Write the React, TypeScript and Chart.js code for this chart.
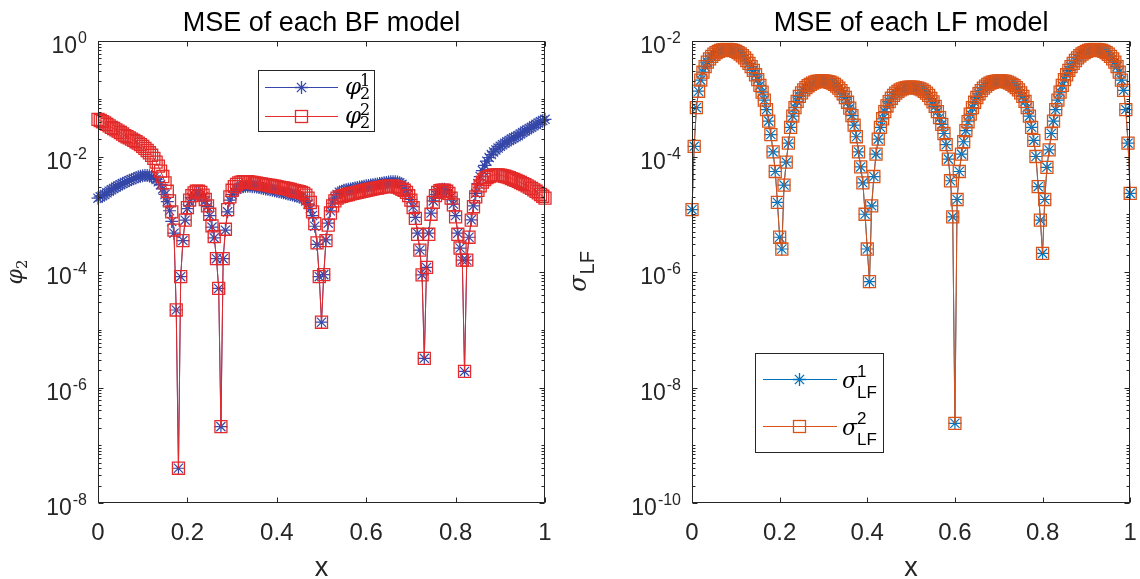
import React, { useEffect, useRef } from 'react';
import { Chart, registerables } from 'chart.js';

Chart.register(...registerables);

// ---------------- data ----------------
const xGrid = [
  0, 0.005, 0.01, 0.015, 0.02, 0.025, 0.03, 0.035, 0.04, 0.045,
  0.05, 0.055, 0.06, 0.065, 0.07, 0.075, 0.08, 0.085, 0.09, 0.095,
  0.1, 0.105, 0.11, 0.115, 0.12, 0.125, 0.13, 0.135, 0.14, 0.145,
  0.15, 0.155, 0.16, 0.165, 0.17, 0.175, 0.18, 0.185, 0.19, 0.195,
  0.2, 0.205, 0.21, 0.215, 0.22, 0.225, 0.23, 0.235, 0.24, 0.245,
  0.25, 0.255, 0.26, 0.265, 0.27, 0.275, 0.28, 0.285, 0.29, 0.295,
  0.3, 0.305, 0.31, 0.315, 0.32, 0.325, 0.33, 0.335, 0.34, 0.345,
  0.35, 0.355, 0.36, 0.365, 0.37, 0.375, 0.38, 0.385, 0.39, 0.395,
  0.4, 0.405, 0.41, 0.415, 0.42, 0.425, 0.43, 0.435, 0.44, 0.445,
  0.45, 0.455, 0.46, 0.465, 0.47, 0.475, 0.48, 0.485, 0.49, 0.495,
  0.5, 0.505, 0.51, 0.515, 0.52, 0.525, 0.53, 0.535, 0.54, 0.545,
  0.55, 0.555, 0.56, 0.565, 0.57, 0.575, 0.58, 0.585, 0.59, 0.595,
  0.6, 0.605, 0.61, 0.615, 0.62, 0.625, 0.63, 0.635, 0.64, 0.645,
  0.65, 0.655, 0.66, 0.665, 0.67, 0.675, 0.68, 0.685, 0.69, 0.695,
  0.7, 0.705, 0.71, 0.715, 0.72, 0.725, 0.73, 0.735, 0.74, 0.745,
  0.75, 0.755, 0.76, 0.765, 0.77, 0.775, 0.78, 0.785, 0.79, 0.795,
  0.8, 0.805, 0.81, 0.815, 0.82, 0.825, 0.83, 0.835, 0.84, 0.845,
  0.85, 0.855, 0.86, 0.865, 0.87, 0.875, 0.88, 0.885, 0.89, 0.895,
  0.9, 0.905, 0.91, 0.915, 0.92, 0.925, 0.93, 0.935, 0.94, 0.945,
  0.95, 0.955, 0.96, 0.965, 0.97, 0.975, 0.98, 0.985, 0.99, 0.995,
  1,
];

// BF model 1 (blue stars)
const bfPhi1Values = [
  1.9e-3, 2.0e-3, 2.1e-3, 2.2e-3, 2.35e-3, 2.5e-3, 2.65e-3, 2.8e-3, 2.95e-3, 3.1e-3,
  3.25e-3, 3.4e-3, 3.55e-3, 3.7e-3, 3.85e-3, 4.0e-3, 4.15e-3, 4.3e-3, 4.45e-3, 4.55e-3,
  4.65e-3, 4.7e-3, 4.7e-3, 4.65e-3, 4.5e-3, 4.3e-3, 4.0e-3, 3.65e-3, 3.25e-3, 2.75e-3,
  2.2e-3, 1.65e-3, 1.15e-3, 7.5e-4, 4.7e-4, 2.2e-5, 4e-8, 8.3e-5, 3.5e-4, 7.9e-4,
  1.25e-3, 1.65e-3, 1.95e-3, 2.15e-3, 2.3e-3, 2.3e-3, 2.2e-3, 2.0e-3, 1.7e-3, 1.35e-3,
  9.5e-4, 6.0e-4, 3.9e-4, 1.7e-4, 5.2e-5, 2.1e-7, 1.7e-4, 5.3e-4, 1.1e-3, 1.75e-3,
  2.2e-3, 2.5e-3, 2.7e-3, 2.85e-3, 2.95e-3, 3.0e-3, 3.05e-3, 3.05e-3, 3.05e-3, 3.0e-3,
  3.0e-3, 2.95e-3, 2.9e-3, 2.85e-3, 2.8e-3, 2.75e-3, 2.7e-3, 2.65e-3, 2.6e-3, 2.55e-3,
  2.5e-3, 2.45e-3, 2.4e-3, 2.35e-3, 2.3e-3, 2.25e-3, 2.2e-3, 2.15e-3, 2.1e-3, 2.05e-3,
  2.0e-3, 1.95e-3, 1.85e-3, 1.7e-3, 1.5e-3, 1.25e-3, 9.5e-4, 6.2e-4, 3.0e-4, 8.3e-5,
  1.35e-5, 9.0e-5, 3.6e-4, 7.0e-4, 1.15e-3, 1.55e-3, 1.9e-3, 2.2e-3, 2.4e-3, 2.5e-3,
  2.6e-3, 2.65e-3, 2.7e-3, 2.75e-3, 2.8e-3, 2.85e-3, 2.9e-3, 2.95e-3, 3.0e-3, 3.05e-3,
  3.1e-3, 3.15e-3, 3.2e-3, 3.25e-3, 3.3e-3, 3.35e-3, 3.4e-3, 3.45e-3, 3.5e-3, 3.55e-3,
  3.6e-3, 3.65e-3, 3.65e-3, 3.65e-3, 3.6e-3, 3.5e-3, 3.3e-3, 3.0e-3, 2.6e-3, 2.2e-3,
  1.8e-3, 1.35e-3, 8.8e-4, 4.7e-4, 2.4e-4, 8.9e-5, 3.2e-6, 1.2e-4, 4.7e-4, 1.05e-3,
  1.7e-3, 2.2e-3, 2.5e-3, 2.65e-3, 2.7e-3, 2.7e-3, 2.6e-3, 2.4e-3, 2.0e-3, 1.5e-3,
  9.5e-4, 4.7e-4, 2.6e-4, 1.6e-4, 1.9e-6, 1.6e-4, 4.0e-4, 8.0e-4, 1.4e-3, 2.3e-3,
  3.4e-3, 4.5e-3, 5.7e-3, 7.0e-3, 8.3e-3, 9.6e-3, 1.08e-2, 1.2e-2, 1.3e-2, 1.4e-2,
  1.5e-2, 1.6e-2, 1.7e-2, 1.8e-2, 1.9e-2, 2.0e-2, 2.1e-2, 2.2e-2, 2.3e-2, 2.45e-2,
  2.6e-2, 2.75e-2, 2.9e-2, 3.05e-2, 3.2e-2, 3.4e-2, 3.6e-2, 3.8e-2, 4.0e-2, 4.2e-2,
  4.4e-2,
];

// BF model 2 (red squares)
const bfPhi2Values = [
  4.4e-2, 4.2e-2, 4.0e-2, 3.8e-2, 3.6e-2, 3.4e-2, 3.2e-2, 3.05e-2, 2.9e-2, 2.75e-2,
  2.6e-2, 2.45e-2, 2.3e-2, 2.2e-2, 2.1e-2, 2.0e-2, 1.9e-2, 1.8e-2, 1.7e-2, 1.6e-2,
  1.5e-2, 1.38e-2, 1.27e-2, 1.16e-2, 1.05e-2, 9.3e-3, 8.0e-3, 6.8e-3, 5.6e-3, 4.5e-3,
  3.5e-3, 2.5e-3, 1.7e-3, 1.1e-3, 5.3e-4, 2.2e-5, 4e-8, 8.3e-5, 3.5e-4, 7.9e-4,
  1.3e-3, 1.75e-3, 2.1e-3, 2.35e-3, 2.5e-3, 2.5e-3, 2.4e-3, 2.15e-3, 1.8e-3, 1.4e-3,
  1.0e-3, 6.3e-4, 4.1e-4, 1.7e-4, 5.2e-5, 2.1e-7, 1.7e-4, 5.5e-4, 1.2e-3, 2.0e-3,
  2.6e-3, 3.0e-3, 3.3e-3, 3.5e-3, 3.6e-3, 3.65e-3, 3.65e-3, 3.65e-3, 3.6e-3, 3.55e-3,
  3.5e-3, 3.45e-3, 3.4e-3, 3.35e-3, 3.3e-3, 3.25e-3, 3.2e-3, 3.15e-3, 3.1e-3, 3.05e-3,
  3.0e-3, 2.95e-3, 2.9e-3, 2.85e-3, 2.8e-3, 2.75e-3, 2.7e-3, 2.62e-3, 2.55e-3, 2.5e-3,
  2.45e-3, 2.4e-3, 2.3e-3, 2.15e-3, 1.9e-3, 1.6e-3, 1.1e-3, 6.9e-4, 3.2e-4, 8.3e-5,
  1.35e-5, 9.0e-5, 3.5e-4, 6.5e-4, 1.05e-3, 1.4e-3, 1.7e-3, 1.9e-3, 2.0e-3, 2.05e-3,
  2.1e-3, 2.15e-3, 2.2e-3, 2.25e-3, 2.3e-3, 2.35e-3, 2.4e-3, 2.45e-3, 2.5e-3, 2.55e-3,
  2.6e-3, 2.65e-3, 2.7e-3, 2.75e-3, 2.8e-3, 2.85e-3, 2.9e-3, 2.95e-3, 3.0e-3, 3.0e-3,
  3.05e-3, 3.05e-3, 3.05e-3, 3.0e-3, 2.95e-3, 2.85e-3, 2.7e-3, 2.6e-3, 2.4e-3, 2.1e-3,
  1.75e-3, 1.3e-3, 8.5e-4, 4.5e-4, 2.4e-4, 8.9e-5, 3.2e-6, 1.2e-4, 4.5e-4, 1.0e-3,
  1.6e-3, 2.1e-3, 2.4e-3, 2.55e-3, 2.6e-3, 2.6e-3, 2.5e-3, 2.3e-3, 1.9e-3, 1.45e-3,
  9.0e-4, 4.5e-4, 2.6e-4, 1.6e-4, 1.9e-6, 1.6e-4, 4.0e-4, 7.9e-4, 1.35e-3, 2.0e-3,
  2.6e-3, 3.1e-3, 3.6e-3, 4.0e-3, 4.3e-3, 4.5e-3, 4.65e-3, 4.75e-3, 4.8e-3, 4.8e-3,
  4.75e-3, 4.65e-3, 4.55e-3, 4.45e-3, 4.3e-3, 4.15e-3, 4.0e-3, 3.85e-3, 3.7e-3, 3.55e-3,
  3.4e-3, 3.25e-3, 3.1e-3, 2.95e-3, 2.8e-3, 2.65e-3, 2.5e-3, 2.35e-3, 2.2e-3, 2.05e-3,
  1.9e-3,
];

// LF model 1 (blue stars)
const lfSigma1Values = [
  1.2e-5, 1.5e-4, 7.0e-4, 1.35e-3, 2.1e-3, 2.9e-3, 3.6e-3, 4.3e-3, 4.9e-3, 5.4e-3,
  5.9e-3, 6.3e-3, 6.6e-3, 6.85e-3, 7.0e-3, 7.1e-3, 7.15e-3, 7.1e-3, 7.0e-3, 6.85e-3,
  6.6e-3, 6.3e-3, 5.95e-3, 5.55e-3, 5.1e-3, 4.6e-3, 4.1e-3, 3.6e-3, 3.1e-3, 2.6e-3,
  2.15e-3, 1.7e-3, 1.3e-3, 9.5e-4, 6.5e-4, 4.1e-4, 2.4e-4, 1.2e-4, 5.5e-5, 1.6e-5,
  4.0e-6, 2.5e-6, 3.2e-5, 8.0e-5, 1.7e-4, 3.2e-4, 5.0e-4, 7.0e-4, 9.0e-4, 1.1e-3,
  1.26e-3, 1.42e-3, 1.56e-3, 1.68e-3, 1.78e-3, 1.87e-3, 1.94e-3, 1.99e-3, 2.02e-3, 2.04e-3,
  2.04e-3, 2.02e-3, 1.98e-3, 1.93e-3, 1.86e-3, 1.77e-3, 1.66e-3, 1.53e-3, 1.38e-3, 1.22e-3,
  1.05e-3, 8.7e-4, 6.9e-4, 5.1e-4, 3.5e-4, 2.2e-4, 1.2e-4, 6.6e-5, 3.5e-5, 1.0e-5,
  2.5e-6, 6.8e-7, 1.4e-5, 4.5e-5, 1.1e-4, 2.0e-4, 3.2e-4, 4.5e-4, 6.0e-4, 7.5e-4,
  8.9e-4, 1.02e-3, 1.14e-3, 1.25e-3, 1.34e-3, 1.42e-3, 1.48e-3, 1.53e-3, 1.56e-3, 1.58e-3,
  1.59e-3, 1.58e-3, 1.56e-3, 1.53e-3, 1.48e-3, 1.42e-3, 1.34e-3, 1.25e-3, 1.14e-3, 1.01e-3,
  8.8e-4, 7.4e-4, 6.0e-4, 4.7e-4, 3.6e-4, 2.5e-4, 1.6e-4, 9.0e-5, 3.8e-5, 9.0e-6,
  2.4e-9, 1.8e-5, 5.5e-5, 1.1e-4, 1.8e-4, 2.8e-4, 4.0e-4, 5.4e-4, 7.0e-4, 8.7e-4,
  1.05e-3, 1.22e-3, 1.38e-3, 1.53e-3, 1.66e-3, 1.77e-3, 1.86e-3, 1.93e-3, 1.98e-3, 2.02e-3,
  2.04e-3, 2.04e-3, 2.02e-3, 1.99e-3, 1.94e-3, 1.87e-3, 1.78e-3, 1.68e-3, 1.56e-3, 1.42e-3,
  1.26e-3, 1.1e-3, 9.0e-4, 7.0e-4, 5.0e-4, 3.2e-4, 1.9e-4, 1.0e-4, 3.0e-5, 7.9e-6,
  2.1e-6, 1.8e-5, 6.5e-5, 1.3e-4, 2.5e-4, 4.1e-4, 6.5e-4, 9.5e-4, 1.3e-3, 1.7e-3,
  2.15e-3, 2.6e-3, 3.1e-3, 3.6e-3, 4.1e-3, 4.6e-3, 5.1e-3, 5.55e-3, 5.95e-3, 6.3e-3,
  6.6e-3, 6.85e-3, 7.0e-3, 7.1e-3, 7.15e-3, 7.1e-3, 7.0e-3, 6.85e-3, 6.6e-3, 6.3e-3,
  5.9e-3, 5.4e-3, 4.9e-3, 4.3e-3, 3.6e-3, 2.9e-3, 2.1e-3, 1.4e-3, 6.5e-4, 1.7e-4,
  2.3e-5,
];

// LF model 2 (orange squares) coincides with model 1 at the plotted resolution
const lfSigma2Values = lfSigma1Values;

const xTickValues = [0, 0.2, 0.4, 0.6, 0.8, 1];
const xTickLabels = ['0', '0.2', '0.4', '0.6', '0.8', '1'];
const bfYTickExponents = [0, -2, -4, -6, -8];
const lfYTickExponents = [-2, -4, -6, -8, -10];

const panelTitles = ['MSE of each BF model', 'MSE of each LF model'];
const xAxisTitle = 'x';

// ---------------- styling ----------------
const SANS = '"Liberation Sans", Arial, Helvetica, sans-serif';
const SERIF = '"DejaVu Serif", "Liberation Serif", serif';
const INK = '#262626';

const BF_BLUE = '#3547A8';
const BF_RED = '#E42A2A';
const LF_BLUE = '#0072BD';
const LF_ORANGE = '#D95319';

type Kind = 'phi' | 'sigma';

interface PanelSpec {
  title: string;
  values1: number[];
  values2: number[];
  color1: string;
  color2: string;
  yMin: number;
  yMax: number;
  yExps: number[];
  padding: { left: number; top: number; right: number; bottom: number };
  kind: Kind;
  legendBox: [number, number, number, number];
  legendLine: [number, number];
  legendMarkerX: number;
  legendRows: [number, number];
  legendTextX: number;
  legendScriptX: number;
  yLabelX: number;
}

function drawStar(ctx: CanvasRenderingContext2D, x: number, y: number, r: number) {
  const d = r * Math.SQRT1_2;
  ctx.beginPath();
  ctx.moveTo(x - r, y); ctx.lineTo(x + r, y);
  ctx.moveTo(x, y - r); ctx.lineTo(x, y + r);
  ctx.moveTo(x - d, y - d); ctx.lineTo(x + d, y + d);
  ctx.moveTo(x - d, y + d); ctx.lineTo(x + d, y - d);
  ctx.stroke();
}

function drawSquare(ctx: CanvasRenderingContext2D, x: number, y: number, h: number) {
  ctx.strokeRect(x - h, y - h, 2 * h, 2 * h);
}

function makeAxesPlugin(spec: PanelSpec) {
  return {
    id: 'matlabAxes',
    afterDraw(chart: any) {
      const ctx: CanvasRenderingContext2D = chart.ctx;
      const a = chart.chartArea;
      const xs = chart.scales.x;
      const ys = chart.scales.y;
      ctx.save();

      // axes box
      const L = Math.round(a.left) + 0.5;
      const R = Math.round(a.right) - 0.5;
      const T = Math.round(a.top) + 0.5;
      const B = Math.round(a.bottom) - 0.5;
      ctx.strokeStyle = INK;
      ctx.lineWidth = 1;
      ctx.strokeRect(L, T, R - L, B - T);

      // x ticks (inside, top and bottom)
      ctx.beginPath();
      xTickValues.forEach((v) => {
        const px = Math.round(xs.getPixelForValue(v)) + 0.5;
        ctx.moveTo(px, B); ctx.lineTo(px, B - 5);
        ctx.moveTo(px, T); ctx.lineTo(px, T + 5);
      });
      // y ticks, major + minor
      const lo = Math.round(Math.log10(spec.yMin));
      const hi = Math.round(Math.log10(spec.yMax));
      for (let e = lo; e <= hi; e++) {
        for (let m = 1; m <= 9; m++) {
          if (e === hi && m > 1) break;
          const v = m * Math.pow(10, e);
          const py = Math.round(ys.getPixelForValue(v)) + 0.5;
          const major = m === 1 && spec.yExps.includes(e);
          const len = major ? 5 : 3;
          ctx.moveTo(L, py); ctx.lineTo(L + len, py);
          ctx.moveTo(R, py); ctx.lineTo(R - len, py);
        }
      }
      ctx.stroke();

      // x tick labels
      ctx.fillStyle = INK;
      ctx.font = `24px ${SANS}`;
      ctx.textAlign = 'center';
      ctx.textBaseline = 'alphabetic';
      xTickValues.forEach((v, i) => {
        ctx.fillText(xTickLabels[i], xs.getPixelForValue(v), a.bottom + 37);
      });

      // y tick labels 10^e
      spec.yExps.forEach((e) => {
        const py = ys.getPixelForValue(Math.pow(10, e));
        const sup = String(e);
        ctx.font = `16px ${SANS}`;
        const supW = ctx.measureText(sup).width;
        ctx.font = `23px ${SANS}`;
        const baseW = ctx.measureText('10').width;
        const right = a.left - 11;
        const x0 = right - supW - baseW - 1;
        ctx.textAlign = 'left';
        ctx.fillText('10', x0, py + 12);
        ctx.font = `16px ${SANS}`;
        ctx.fillText(sup, x0 + baseW + 1, py + 2);
      });

      // x-axis title
      const cx = (a.left + a.right) / 2;
      ctx.font = `27px ${SANS}`;
      ctx.textAlign = 'center';
      ctx.fillText(xAxisTitle, cx, a.bottom + 73);

      // panel title
      ctx.fillStyle = '#000';
      ctx.font = `27px ${SANS}`;
      ctx.fillText(spec.title, cx, 31);

      // y-axis label (rotated)
      const cy = (a.top + a.bottom) / 2;
      ctx.save();
      ctx.translate(spec.yLabelX, cy);
      ctx.rotate(-Math.PI / 2);
      ctx.fillStyle = INK;
      ctx.textAlign = 'left';
      if (spec.kind === 'phi') {
        ctx.font = `italic 22px ${SERIF}`;
        const w1 = ctx.measureText('φ').width;
        ctx.font = `15px ${SERIF}`;
        const w2 = ctx.measureText('2').width;
        const s = -(w1 + w2) / 2;
        ctx.font = `italic 22px ${SERIF}`;
        ctx.fillText('φ', s, 0);
        ctx.font = `15px ${SERIF}`;
        ctx.fillText('2', s + w1, 5);
      } else {
        ctx.font = `italic 24px ${SERIF}`;
        const w1 = ctx.measureText('σ').width;
        ctx.font = `20px ${SANS}`;
        const w2 = ctx.measureText('LF').width;
        const s = -(w1 + w2) / 2;
        ctx.font = `italic 24px ${SERIF}`;
        ctx.fillText('σ', s, 0);
        ctx.font = `20px ${SANS}`;
        ctx.fillText('LF', s + w1 + 1, 8);
      }
      ctx.restore();

      // legend
      const [bx0, by0, bx1, by1] = spec.legendBox;
      ctx.fillStyle = '#fff';
      ctx.fillRect(bx0, by0, bx1 - bx0, by1 - by0);
      ctx.strokeStyle = INK;
      ctx.lineWidth = 1;
      ctx.strokeRect(bx0 + 0.5, by0 + 0.5, bx1 - bx0 - 1, by1 - by0 - 1);
      const colors = [spec.color1, spec.color2];
      spec.legendRows.forEach((ry, i) => {
        ctx.strokeStyle = colors[i];
        ctx.lineWidth = 1;
        ctx.beginPath();
        ctx.moveTo(spec.legendLine[0], ry + 0.5);
        ctx.lineTo(spec.legendLine[1], ry + 0.5);
        ctx.stroke();
        ctx.lineWidth = 1.3;
        if (i === 0) drawStar(ctx, spec.legendMarkerX, ry + 0.5, 6.5);
        else drawSquare(ctx, spec.legendMarkerX, ry + 0.5, 6);
        ctx.fillStyle = '#000';
        ctx.textAlign = 'left';
        if (spec.kind === 'phi') {
          ctx.font = `italic 23px ${SERIF}`;
          ctx.fillText('φ', spec.legendTextX, ry + 7);
          ctx.font = `16px ${SERIF}`;
          ctx.fillText(String(i + 1), spec.legendScriptX, ry - 1);
          ctx.fillText('2', spec.legendScriptX, ry + 12);
        } else {
          ctx.font = `italic 22px ${SERIF}`;
          ctx.fillText('σ', spec.legendTextX, ry + 9);
          ctx.font = `17px ${SANS}`;
          ctx.fillText(String(i + 1), spec.legendScriptX, ry - 2);
          ctx.fillText('LF', spec.legendScriptX, ry + 19);
        }
      });

      ctx.restore();
    },
  };
}

const toPoints = (vals: number[]) => xGrid.map((x, i) => ({ x, y: vals[i] }));

function Panel({ spec, left }: { spec: PanelSpec; left: number }) {
  const ref = useRef<HTMLCanvasElement | null>(null);
  useEffect(() => {
    if (!ref.current) return;
    const chart = new Chart(ref.current, {
      type: 'line',
      data: {
        datasets: [
          {
            label: 'series 1',
            data: toPoints(spec.values1),
            borderColor: spec.color1,
            borderWidth: 1,
            pointStyle: 'star',
            pointRadius: 6.5,
            pointBorderColor: spec.color1,
            pointBackgroundColor: 'rgba(0,0,0,0)',
            pointBorderWidth: 1.2,
            tension: 0,
            clip: false,
            order: 2,
          } as any,
          {
            label: 'series 2',
            data: toPoints(spec.values2),
            borderColor: spec.color2,
            borderWidth: 1,
            pointStyle: 'rect',
            pointRadius: 8.5,
            pointBorderColor: spec.color2,
            pointBackgroundColor: 'rgba(0,0,0,0)',
            pointBorderWidth: 1.3,
            tension: 0,
            clip: false,
            order: 1,
          } as any,
        ],
      },
      options: {
        animation: false,
        responsive: false,
        devicePixelRatio: 1,
        events: [],
        layout: { padding: spec.padding },
        scales: {
          x: { type: 'linear', min: 0, max: 1, display: false },
          y: { type: 'logarithmic', min: spec.yMin, max: spec.yMax, display: false },
        },
        plugins: {
          legend: { display: false },
          tooltip: { enabled: false },
          title: { display: false },
        },
      },
      plugins: [makeAxesPlugin(spec)],
    });
    return () => chart.destroy();
  }, [spec]);
  return (
    <canvas
      ref={ref}
      width={570}
      height={579}
      style={{ position: 'absolute', left, top: 0, width: 570, height: 579 }}
    />
  );
}

const bfSpec: PanelSpec = {
  title: panelTitles[0],
  values1: bfPhi1Values,
  values2: bfPhi2Values,
  color1: BF_BLUE,
  color2: BF_RED,
  yMin: 1e-8,
  yMax: 1,
  yExps: bfYTickExponents,
  padding: { left: 98, top: 41, right: 25, bottom: 76 },
  kind: 'phi',
  legendBox: [258, 70, 375, 132],
  legendLine: [265, 338],
  legendMarkerX: 301.5,
  legendRows: [87, 116],
  legendTextX: 345,
  legendScriptX: 360,
  yLabelX: 22,
};

const lfSpec: PanelSpec = {
  title: panelTitles[1],
  values1: lfSigma1Values,
  values2: lfSigma2Values,
  color1: LF_BLUE,
  color2: LF_ORANGE,
  yMin: 1e-10,
  yMax: 1e-2,
  yExps: lfYTickExponents,
  padding: { left: 122, top: 41, right: 1, bottom: 76 },
  kind: 'sigma',
  legendBox: [185, 353, 314, 453],
  legendLine: [193, 267],
  legendMarkerX: 229.5,
  legendRows: [379, 426],
  legendTextX: 272,
  legendScriptX: 287,
  yLabelX: 16,
};

export default function App() {
  return (
    <div style={{ position: 'absolute', left: 0, top: 0, width: 1140, height: 579, background: '#fff', overflow: 'hidden' }}>
      <Panel spec={bfSpec} left={0} />
      <Panel spec={lfSpec} left={570} />
    </div>
  );
}
